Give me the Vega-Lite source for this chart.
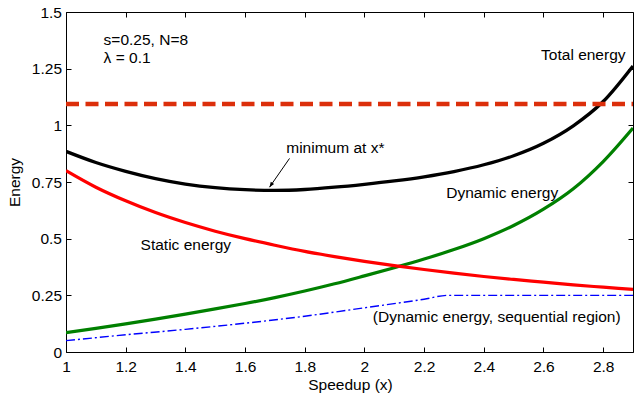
{
  "$schema": "https://vega.github.io/schema/vega-lite/v6.json",
  "width": 567,
  "height": 340,
  "autosize": {"type": "none"},
  "padding": {"left": 66, "top": 12, "right": 1, "bottom": 47},
  "background": "white",
  "config": {
    "view": {"stroke": null},
    "font": "Liberation Sans",
    "axis": {
      "grid": false,
      "domainColor": "black",
      "domainWidth": 1,
      "tickColor": "black",
      "tickWidth": 1,
      "tickSize": -5,
      "labelColor": "black",
      "titleColor": "black",
      "labelFont": "Liberation Sans",
      "titleFont": "Liberation Sans",
      "labelFontSize": 15.5,
      "titleFontSize": 15.5,
      "titleFontWeight": "normal",
      "labelFlush": false,
      "labelOverlap": false,
      "labelBound": false
    },
    "text": {"font": "Liberation Sans", "fontSize": 15.5, "color": "black"}
  },
  "datasets": {
    "curves": [
      {"series": "total", "x": 1.0, "y": 0.885},
      {"series": "total", "x": 1.1, "y": 0.836},
      {"series": "total", "x": 1.2, "y": 0.797},
      {"series": "total", "x": 1.3, "y": 0.765},
      {"series": "total", "x": 1.4, "y": 0.741},
      {"series": "total", "x": 1.5, "y": 0.725},
      {"series": "total", "x": 1.6, "y": 0.716},
      {"series": "total", "x": 1.7, "y": 0.713},
      {"series": "total", "x": 1.8, "y": 0.717},
      {"series": "total", "x": 1.9, "y": 0.727},
      {"series": "total", "x": 2.0, "y": 0.740},
      {"series": "total", "x": 2.1, "y": 0.755},
      {"series": "total", "x": 2.2, "y": 0.773},
      {"series": "total", "x": 2.3, "y": 0.796},
      {"series": "total", "x": 2.4, "y": 0.826},
      {"series": "total", "x": 2.5, "y": 0.866},
      {"series": "total", "x": 2.6, "y": 0.921},
      {"series": "total", "x": 2.7, "y": 0.998},
      {"series": "total", "x": 2.8, "y": 1.105},
      {"series": "total", "x": 2.9, "y": 1.262},
      {"series": "static", "x": 1.0, "y": 0.800},
      {"series": "static", "x": 1.1, "y": 0.727},
      {"series": "static", "x": 1.2, "y": 0.667},
      {"series": "static", "x": 1.3, "y": 0.615},
      {"series": "static", "x": 1.4, "y": 0.571},
      {"series": "static", "x": 1.5, "y": 0.533},
      {"series": "static", "x": 1.6, "y": 0.500},
      {"series": "static", "x": 1.7, "y": 0.471},
      {"series": "static", "x": 1.8, "y": 0.444},
      {"series": "static", "x": 1.9, "y": 0.421},
      {"series": "static", "x": 2.0, "y": 0.400},
      {"series": "static", "x": 2.1, "y": 0.381},
      {"series": "static", "x": 2.2, "y": 0.364},
      {"series": "static", "x": 2.3, "y": 0.348},
      {"series": "static", "x": 2.4, "y": 0.333},
      {"series": "static", "x": 2.5, "y": 0.320},
      {"series": "static", "x": 2.6, "y": 0.308},
      {"series": "static", "x": 2.7, "y": 0.296},
      {"series": "static", "x": 2.8, "y": 0.286},
      {"series": "static", "x": 2.9, "y": 0.276},
      {"series": "dynamic", "x": 1.0, "y": 0.085},
      {"series": "dynamic", "x": 1.1, "y": 0.104},
      {"series": "dynamic", "x": 1.2, "y": 0.124},
      {"series": "dynamic", "x": 1.3, "y": 0.145},
      {"series": "dynamic", "x": 1.4, "y": 0.167},
      {"series": "dynamic", "x": 1.5, "y": 0.190},
      {"series": "dynamic", "x": 1.6, "y": 0.214},
      {"series": "dynamic", "x": 1.7, "y": 0.240},
      {"series": "dynamic", "x": 1.8, "y": 0.269},
      {"series": "dynamic", "x": 1.9, "y": 0.301},
      {"series": "dynamic", "x": 2.0, "y": 0.336},
      {"series": "dynamic", "x": 2.1, "y": 0.372},
      {"series": "dynamic", "x": 2.2, "y": 0.410},
      {"series": "dynamic", "x": 2.3, "y": 0.452},
      {"series": "dynamic", "x": 2.4, "y": 0.500},
      {"series": "dynamic", "x": 2.5, "y": 0.558},
      {"series": "dynamic", "x": 2.6, "y": 0.630},
      {"series": "dynamic", "x": 2.7, "y": 0.720},
      {"series": "dynamic", "x": 2.8, "y": 0.840},
      {"series": "dynamic", "x": 2.9, "y": 0.988},
      {"series": "seq", "x": 1.0, "y": 0.050},
      {"series": "seq", "x": 1.2, "y": 0.076},
      {"series": "seq", "x": 1.4, "y": 0.100},
      {"series": "seq", "x": 1.6, "y": 0.127},
      {"series": "seq", "x": 1.8, "y": 0.158},
      {"series": "seq", "x": 2.0, "y": 0.195},
      {"series": "seq", "x": 2.2, "y": 0.233},
      {"series": "seq", "x": 2.28, "y": 0.250},
      {"series": "seq", "x": 2.9, "y": 0.250}
    ],
    "labels": [
      {"x": 1.126, "y": 1.354, "label": "s=0.25, N=8"},
      {"x": 1.126, "y": 1.274, "label": "λ = 0.1"},
      {"x": 2.592, "y": 1.288, "label": "Total energy"},
      {"x": 1.738, "y": 0.879, "label": "minimum at x*"},
      {"x": 2.274, "y": 0.678, "label": "Dynamic energy"},
      {"x": 1.25, "y": 0.45, "label": "Static energy"},
      {"x": 2.028, "y": 0.134, "label": "(Dynamic energy, sequential region)"}
    ],
    "arrow": [
      {"x": 1.749, "y": 0.854, "x2": 1.682, "y2": 0.727}
    ],
    "limit": [
      {"x": 1.0, "y": 1.094},
      {"x": 2.9, "y": 1.094}
    ]
  },
  "layer": [
    {
      "layer": [
        {
          "data": {"name": "curves"},
          "transform": [{"filter": "datum.series === 'dynamic'"}],
          "mark": {"type": "line", "color": "#008000", "strokeWidth": 3.2, "interpolate": "monotone", "clip": true},
          "encoding": {
            "x": {"field": "x", "type": "quantitative", "scale": {"domain": [1, 2.9], "nice": false, "zero": false},
              "axis": {"orient": "bottom", "values": [1, 1.2, 1.4, 1.6, 1.8, 2, 2.2, 2.4, 2.6, 2.8], "labelExpr": "format(datum.value, '~g')", "labelBaseline": "alphabetic", "labelPadding": 24.5, "title": "Speedup (x)", "titleX": 284, "titleY": 37, "titleBaseline": "alphabetic", "titleAlign": "center"}},
            "y": {"field": "y", "type": "quantitative", "scale": {"domain": [0, 1.5], "nice": false, "zero": false},
              "axis": {"orient": "left", "values": [0, 0.25, 0.5, 0.75, 1, 1.25, 1.5], "labelExpr": "format(datum.value, '~g')", "labelBaseline": "middle", "labelPadding": 9.5, "title": "Energy", "titleX": -47, "titleY": 170, "titleAngle": -90, "titleBaseline": "alphabetic", "titleAlign": "center"}}
          }
        },
        {
          "data": {"name": "curves"},
          "transform": [{"filter": "datum.series === 'static'"}],
          "mark": {"type": "line", "color": "#ff0000", "strokeWidth": 3.2, "interpolate": "monotone", "clip": true},
          "encoding": {
            "x": {"field": "x", "type": "quantitative", "scale": {"domain": [1, 2.9], "nice": false, "zero": false}},
            "y": {"field": "y", "type": "quantitative", "scale": {"domain": [0, 1.5], "nice": false, "zero": false}}
          }
        },
        {
          "data": {"name": "curves"},
          "transform": [{"filter": "datum.series === 'seq'"}],
          "mark": {"type": "line", "color": "#0000ff", "strokeWidth": 1.4, "strokeDash": [9, 3, 2, 3], "interpolate": "monotone", "clip": true},
          "encoding": {
            "x": {"field": "x", "type": "quantitative", "scale": {"domain": [1, 2.9], "nice": false, "zero": false}},
            "y": {"field": "y", "type": "quantitative", "scale": {"domain": [0, 1.5], "nice": false, "zero": false}}
          }
        },
        {
          "data": {"name": "curves"},
          "transform": [{"filter": "datum.series === 'total'"}],
          "mark": {"type": "line", "color": "#000000", "strokeWidth": 3.3, "interpolate": "monotone", "clip": true},
          "encoding": {
            "x": {"field": "x", "type": "quantitative", "scale": {"domain": [1, 2.9], "nice": false, "zero": false}},
            "y": {"field": "y", "type": "quantitative", "scale": {"domain": [0, 1.5], "nice": false, "zero": false}}
          }
        },
        {
          "data": {"name": "labels"},
          "mark": {"type": "text", "align": "left", "baseline": "alphabetic", "fontSize": 15.5, "color": "black"},
          "encoding": {
            "x": {"field": "x", "type": "quantitative", "scale": {"domain": [1, 2.9], "nice": false, "zero": false}},
            "y": {"field": "y", "type": "quantitative", "scale": {"domain": [0, 1.5], "nice": false, "zero": false}},
            "text": {"field": "label"}
          }
        },
        {
          "data": {"name": "arrow"},
          "mark": {"type": "rule", "color": "black", "strokeWidth": 1},
          "encoding": {
            "x": {"field": "x", "type": "quantitative", "scale": {"domain": [1, 2.9], "nice": false, "zero": false}},
            "y": {"field": "y", "type": "quantitative", "scale": {"domain": [0, 1.5], "nice": false, "zero": false}},
            "x2": {"field": "x2"},
            "y2": {"field": "y2"}
          }
        },
        {
          "data": {"name": "arrow"},
          "mark": {"type": "point", "shape": "M0,0L-0.38,1L0.38,1Z", "filled": true, "color": "black", "opacity": 1, "size": 110, "angle": 213.7},
          "encoding": {
            "x": {"field": "x2", "type": "quantitative", "scale": {"domain": [1, 2.9], "nice": false, "zero": false}},
            "y": {"field": "y2", "type": "quantitative", "scale": {"domain": [0, 1.5], "nice": false, "zero": false}}
          }
        }
      ]
    },
    {
      "data": {"name": "limit"},
      "mark": {"type": "line", "color": "#dc2f0b", "strokeWidth": 4.5, "strokeDash": [13, 6.5]},
      "encoding": {
        "x": {"field": "x", "type": "quantitative", "scale": {"domain": [1, 2.9], "nice": false, "zero": false},
          "axis": {"orient": "top", "values": [1, 1.2, 1.4, 1.6, 1.8, 2, 2.2, 2.4, 2.6, 2.8], "labels": false, "title": null}},
        "y": {"field": "y", "type": "quantitative", "scale": {"domain": [0, 1.5], "nice": false, "zero": false},
          "axis": {"orient": "right", "values": [0, 0.25, 0.5, 0.75, 1, 1.25, 1.5], "labels": false, "title": null}}
      }
    }
  ],
  "resolve": {"scale": {"x": "independent", "y": "independent"}}
}
